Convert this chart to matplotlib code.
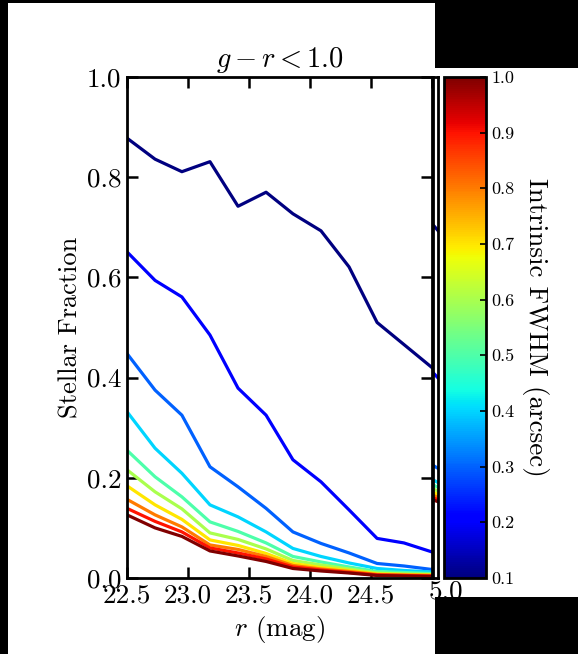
import matplotlib
matplotlib.use("Agg")
import matplotlib.pyplot as plt
from matplotlib import cm, colors
from matplotlib.colorbar import ColorbarBase
from matplotlib.patches import Rectangle

plt.rcParams['font.family'] = ['cmr10', 'DejaVu Serif']
plt.rcParams['mathtext.fontset'] = 'cm'
plt.rcParams['axes.formatter.use_mathtext'] = True

# r magnitude bins
mag = [22.50, 22.73, 22.95, 23.18, 23.41, 23.64, 23.86, 24.09, 24.32, 24.55, 24.77, 25.00]
# intrinsic FWHM of each curve (arcsec)
fwhm = [0.1, 0.2, 0.3, 0.4, 0.5, 0.6, 0.7, 0.8, 0.9, 1.0]

f01 = [0.878, 0.836, 0.811, 0.831, 0.742, 0.770, 0.727, 0.693, 0.621, 0.510, 0.466, 0.420]
f02 = [0.651, 0.594, 0.561, 0.485, 0.379, 0.325, 0.236, 0.192, 0.136, 0.079, 0.070, 0.052]
f03 = [0.448, 0.375, 0.325, 0.222, 0.182, 0.139, 0.092, 0.069, 0.050, 0.029, 0.024, 0.017]
f04 = [0.332, 0.259, 0.209, 0.146, 0.122, 0.092, 0.059, 0.043, 0.030, 0.019, 0.015, 0.012]
f05 = [0.255, 0.202, 0.162, 0.112, 0.093, 0.070, 0.043, 0.032, 0.022, 0.013, 0.011, 0.009]
f06 = [0.216, 0.172, 0.138, 0.090, 0.077, 0.058, 0.035, 0.026, 0.018, 0.010, 0.008, 0.007]
f07 = [0.184, 0.146, 0.117, 0.076, 0.065, 0.049, 0.029, 0.021, 0.015, 0.008, 0.007, 0.006]
f08 = [0.157, 0.126, 0.102, 0.066, 0.057, 0.043, 0.025, 0.018, 0.013, 0.007, 0.006, 0.005]
f09 = [0.139, 0.113, 0.092, 0.060, 0.050, 0.038, 0.022, 0.016, 0.011, 0.006, 0.005, 0.004]
f10 = [0.126, 0.100, 0.083, 0.054, 0.044, 0.033, 0.019, 0.014, 0.010, 0.005, 0.004, 0.003]
fracs = [f01, f02, f03, f04, f05, f06, f07, f08, f09, f10]

# second (cropped) panel: only its first two bins show
mag2 = [22.50, 22.73]
p2 = [[0.705, 0.640], [0.410, 0.350], [0.225, 0.190], [0.196, 0.165], [0.186, 0.158],
      [0.178, 0.152], [0.171, 0.147], [0.165, 0.142], [0.160, 0.138], [0.156, 0.135]]

xticks = [22.5, 23.0, 23.5, 24.0, 24.5, 25.0]
xticklabels = ['22.5', '23.0', '23.5', '24.0', '24.5', '']
yticks = [0.0, 0.2, 0.4, 0.6, 0.8, 1.0]
cbticks = [0.1, 0.2, 0.3, 0.4, 0.5, 0.6, 0.7, 0.8, 0.9, 1.0]

W, H = 578, 654
fig = plt.figure(figsize=(W / 100, H / 100), dpi=100)
norm = colors.Normalize(vmin=0.1, vmax=1.0)
cmap = cm.jet

def px(x0, y0, x1, y1):
    return [x0 / W, 1 - y1 / H, (x1 - x0) / W, (y1 - y0) / H]

ax = fig.add_axes(px(127, 77, 432, 578))
for v, f in zip(fwhm, fracs):
    ax.plot(mag, f, color=cmap(norm(v)), lw=2.3)
ax.set_xlim(22.5, 25.0)
ax.set_ylim(0.0, 1.0)
ax.set_xticks(xticks)
ax.set_xticklabels(xticklabels)
ax.set_yticks(yticks)
ax.set_yticklabels(['%.1f' % t for t in yticks])
ax.tick_params(direction='in', length=8, width=1.8, top=True, right=True,
               labelsize=19.5, pad=4)
for s in ax.spines.values():
    s.set_linewidth(2.0)
ax.set_title(r'$g - r < 1.0$', fontsize=20.5, pad=7)
ax.set_xlabel(r'$r$ (mag)', fontsize=19.5, labelpad=5)
ax.set_ylabel('Stellar Fraction', fontsize=19, labelpad=3)

# sliver of the neighbouring panel
ax2 = fig.add_axes(px(433, 77, 438, 578))
for v, f in zip(fwhm, p2):
    ax2.plot(mag2, f, color=cmap(norm(v)), lw=2.3)
ax2.set_xlim(22.5, 22.5 + 5 * 2.5 / 305)
ax2.set_ylim(0.0, 1.0)
ax2.set_xticks([])
ax2.set_yticks([])
for s in ax2.spines.values():
    s.set_linewidth(2.0)

cax = fig.add_axes(px(444, 77, 486, 578))
cb = ColorbarBase(cax, cmap=cmap, norm=norm, ticks=cbticks)
cb.outline.set_linewidth(2.0)
cb.ax.set_yticklabels(['%.1f' % t for t in cbticks])
cb.ax.tick_params(direction='in', length=4, width=1.2, labelsize=13, pad=4)
cb.set_label('Intrinsic FWHM (arcsec)', fontsize=19.5, rotation=270, labelpad=25)

fig.text(429 / W, 1 - 592 / H, '5.0', fontsize=19.5, ha='left', va='center')

# black borders of the screenshot
for (x0, y0, x1, y1) in [(0, 0, 8, 654), (0, 0, 578, 3), (435, 0, 578, 68), (435, 597, 578, 654)]:
    fig.patches.append(Rectangle((x0 / W, 1 - y1 / H), (x1 - x0) / W, (y1 - y0) / H,
                                 transform=fig.transFigure, facecolor='black',
                                 edgecolor='none', zorder=10))

fig.savefig('out.png', dpi=100)
